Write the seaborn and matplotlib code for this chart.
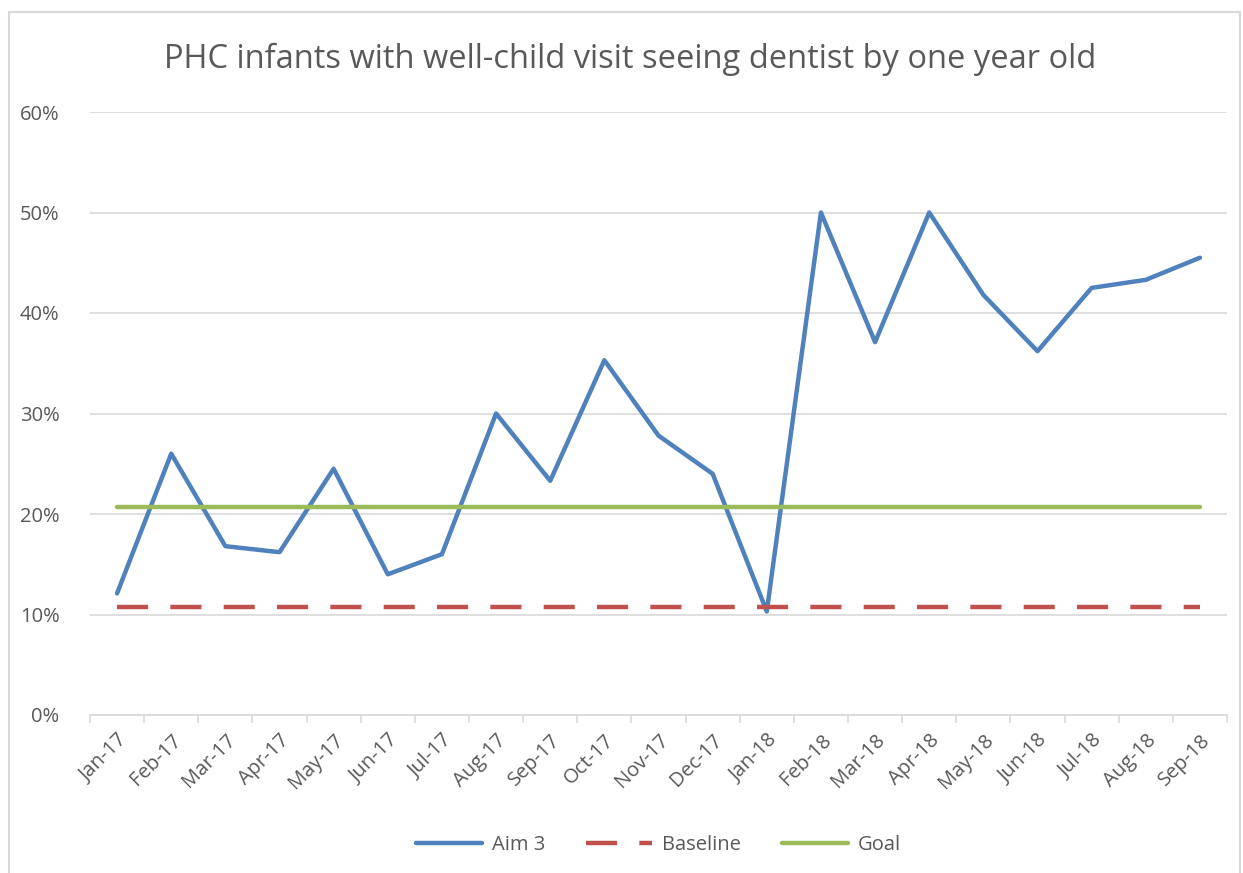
import pandas as pd
import matplotlib.pyplot as plt
import seaborn as sns
from matplotlib.ticker import FixedLocator, PercentFormatter
from matplotlib.patches import Rectangle

months = ['Jan-17', 'Feb-17', 'Mar-17', 'Apr-17', 'May-17', 'Jun-17', 'Jul-17',
          'Aug-17', 'Sep-17', 'Oct-17', 'Nov-17', 'Dec-17', 'Jan-18', 'Feb-18',
          'Mar-18', 'Apr-18', 'May-18', 'Jun-18', 'Jul-18', 'Aug-18', 'Sep-18']
aim3 = [0.121, 0.260, 0.168, 0.162, 0.245, 0.140, 0.160, 0.300, 0.233, 0.353,
        0.278, 0.240, 0.103, 0.500, 0.371, 0.500, 0.418, 0.362, 0.425, 0.433, 0.455]
baseline = [0.107] * len(months)
goal = [0.207] * len(months)

df = pd.DataFrame({'pos': range(len(months)), 'month': months,
                   'Aim 3': aim3, 'Baseline': baseline, 'Goal': goal})

sns.set_theme(style='white')
plt.rcParams['font.family'] = ['Open Sans', 'DejaVu Sans']
text_col = '#595959'
grid_col = '#D9D9D9'

fig = plt.figure(figsize=(12.43, 8.73), dpi=100)
fig.patches.append(Rectangle((9 / 1243, -0.05), (1240 - 9) / 1243, 1.05 - 12 / 873,
                             transform=fig.transFigure, fill=False,
                             edgecolor=grid_col, linewidth=1.5))
ax = fig.add_axes([90 / 1243, 1 - 715 / 873, (1227 - 90) / 1243, (715 - 112) / 873])

sns.lineplot(data=df, x='pos', y='Aim 3', ax=ax, color='#4F81BD', linewidth=3.2,
             label='Aim 3')
sns.lineplot(data=df, x='pos', y='Baseline', ax=ax, color='#C0504D', linewidth=3.2,
             label='Baseline', dashes=False)
ax.lines[-1].set_dashes([7, 5])
sns.lineplot(data=df, x='pos', y='Goal', ax=ax, color='#9BBB59', linewidth=3.2,
             label='Goal')

ax.set_xlim(-0.5, len(months) - 0.5)
ax.set_ylim(0, 0.6)
ax.set_yticks([0, 0.1, 0.2, 0.3, 0.4, 0.5, 0.6])
ax.yaxis.set_major_formatter(PercentFormatter(1.0, decimals=0))
ax.yaxis.grid(True, color=grid_col, linewidth=1.2)
ax.set_axisbelow(True)

ax.set_xticks(range(len(months)))
ax.set_xticklabels(months, rotation=45, ha='right', rotation_mode='anchor')
ax.xaxis.set_minor_locator(FixedLocator([i - 0.5 for i in range(len(months) + 1)]))
ax.tick_params(axis='x', which='major', length=0, pad=11, labelsize=14.5, labelcolor=text_col)
ax.tick_params(axis='x', which='minor', bottom=True, length=6, width=1.2, color=grid_col)
ax.tick_params(axis='y', length=0, pad=22, labelsize=14.5, labelcolor=text_col)

for s in ['top', 'right', 'left']:
    ax.spines[s].set_visible(False)
ax.spines['bottom'].set_color(grid_col)
ax.spines['bottom'].set_linewidth(1.2)
ax.set_xlabel('')
ax.set_ylabel('')

ax.legend(loc='center', bbox_to_anchor=(0.5, -0.215), ncol=3, frameon=False,
          fontsize=14.5, labelcolor=text_col, handlelength=3.3, handletextpad=0.5,
          columnspacing=2.0)

fig.text(0.507, 1 - 59 / 873, 'PHC infants with well-child visit seeing dentist by one year old',
         ha='center', va='center', fontsize=23.5, color=text_col)

fig.savefig('out.png', dpi=100)
